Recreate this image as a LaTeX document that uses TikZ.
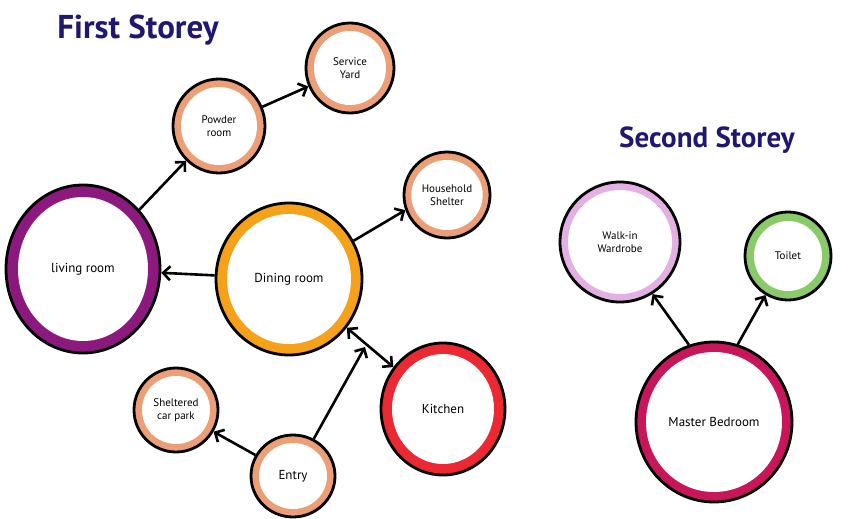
\documentclass[tikz,border=0pt]{standalone}
\usepackage{fontspec}
\setmainfont{PT Sans}
\usetikzlibrary{shapes.geometric,arrows.meta}
\definecolor{cpurple}{RGB}{140,25,125}
\definecolor{cdining}{RGB}{245,162,26}
\definecolor{ckitchen}{RGB}{236,40,50}
\definecolor{cpeach}{RGB}{236,158,118}
\definecolor{cpink}{RGB}{228,176,228}
\definecolor{cgreen}{RGB}{138,202,104}
\definecolor{cmaster}{RGB}{200,22,90}
\definecolor{cnavy}{RGB}{32,24,112}
\tikzset{
  ringbox/.style={ellipse, draw=black, line width=2.8, inner sep=0pt, outer sep=auto},
  innerbox/.style={ellipse, fill=white, inner sep=0pt, align=center, font=\fontsize{13}{15}\selectfont},
  smalltext/.style={font=\fontsize{11}{13.5}\selectfont},
  title/.style={font=\bfseries\fontsize{33}{36}\selectfont, text=cnavy},
  conn/.style={line width=2.6, -{Straight Barb[length=7,width=14]}},
  dconn/.style={line width=2.6, {Straight Barb[length=7,width=14]}-{Straight Barb[length=7,width=14]}}
}
\newcommand\roomnode[9]{%
  \node[ringbox, fill=#6, minimum width={2*#4}, minimum height={2*#5}] (#1) at (#2,#3) {};
  \node[innerbox, minimum width={2*(#4-#7)}, minimum height={2*(#5-#7)}, #9] (#1-in) at (#1) {#8};
}
\begin{document}
\begin{tikzpicture}[x=1pt,y=-1pt]
\useasboundingbox (0,0) rectangle (849,519);
\node[title] (t1) at (138,30) {First Storey};
\node[title, font=\bfseries\fontsize{29}{32}\selectfont] (t2) at (707,140) {Second Storey};
\roomnode{service}{350}{68}{44}{45}{cpeach}{8}{Service\\Yard}{smalltext}
\roomnode{powder}{219}{126}{46}{47}{cpeach}{8}{Powder\\room}{smalltext}
\roomnode{living}{83}{269}{77}{84}{cpurple}{12}{living room}{}
\roomnode{dining}{289}{279}{73}{76}{cdining}{11}{Dining room}{}
\roomnode{shelter}{447}{195}{43}{43}{cpeach}{8}{Household\\Shelter}{smalltext}
\roomnode{kitchen}{443}{409}{62}{66}{ckitchen}{11}{Kitchen}{}
\roomnode{carpark}{176}{410}{42}{42}{cpeach}{8}{Sheltered\\car park}{smalltext}
\roomnode{entry}{293}{476}{42}{41}{cpeach}{8}{Entry}{}
\roomnode{walkin}{620}{242}{60}{60}{cpink}{8}{Walk-in\\Wardrobe}{smalltext}
\roomnode{toilet}{788}{256}{43}{44}{cgreen}{9}{Toilet}{smalltext}
\roomnode{master}{714}{422}{78}{80}{cmaster}{10}{Master Bedroom}{}
\coordinate (dtip) at (365,347);
\draw[conn] (living) -- (powder);
\draw[conn] (powder) -- (service);
\draw[conn] (dining) -- (living);
\draw[conn] (dining) -- (shelter.200);
\draw[dconn] (dining) -- (kitchen);
\draw[conn] (entry) -- (dtip);
\draw[conn] (entry) -- (carpark.330);
\draw[conn] (master.108) -- (walkin.302);
\draw[conn] (master.73) -- (toilet.240);
\end{tikzpicture}
\end{document}
